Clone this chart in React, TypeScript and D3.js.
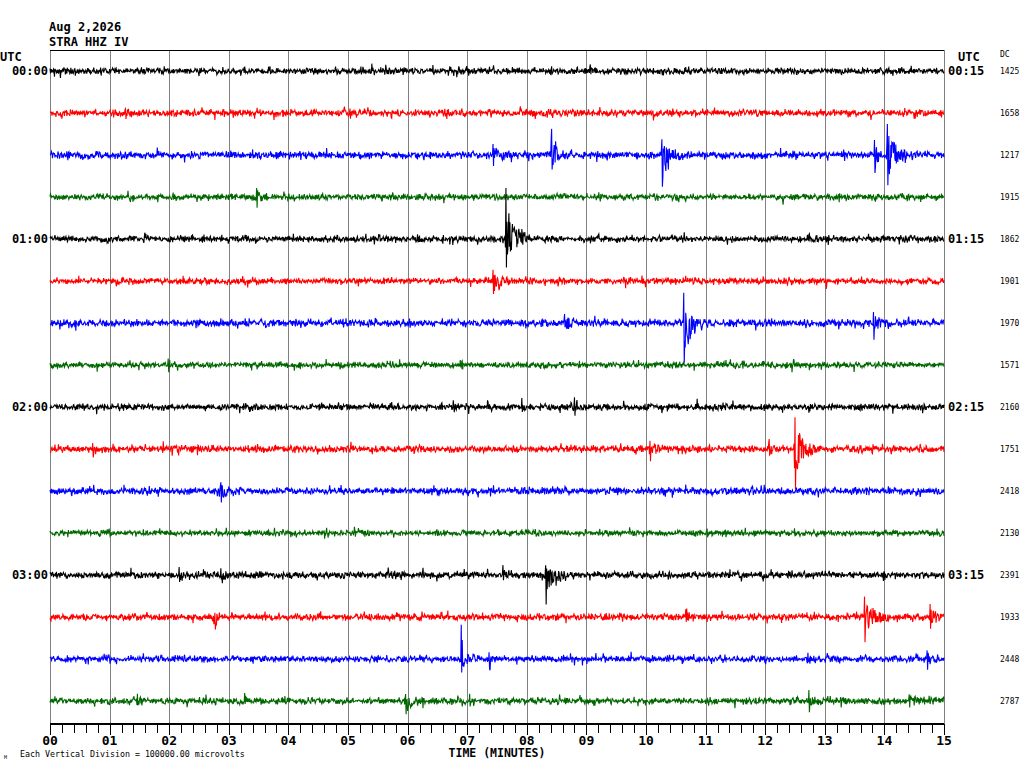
import { useMemo } from "react";
import * as d3 from "d3";

// header + labels
const dateLabel = "Aug 2,2026";
const stationLabel = "STRA HHZ IV";
const scaleNote = "Each Vertical Division = 100000.00 microvolts";
const leftTimes = ["00:00", "", "", "", "01:00", "", "", "", "02:00", "", "", "", "03:00", "", "", ""];
const rightTimes = ["00:15", "", "", "", "01:15", "", "", "", "02:15", "", "", "", "03:15", "", "", ""];
const dcValues = [1425, 1658, 1217, 1915, 1862, 1901, 1970, 1571, 2160, 1751, 2418, 2130, 2391, 1933, 2448, 2787];
const traceColors = ["#000000", "#ff0000", "#0000ff", "#006600"];
const minuteTicks = d3.range(0, 16);

// background noise level per line (microvolts)
const noiseLevels = [5600, 5900, 6000, 5200, 5400, 5300, 6200, 5000, 5600, 6000, 6000, 4800, 5800, 5800, 5400, 5600];

// events: [line, minute, peak up uV, peak down uV, duration s]
const events: [number, number, number, number, number][] = [
  [0, 5.2, 12000, 9000, 10], [0, 9.05, 10000, 7000, 8], [0, 7.0, 7000, 12000, 6],
  [1, 1.25, 14000, 12000, 15], [1, 2.9, 12000, 9000, 10], [1, 4.4, 12000, 7000, 10], [1, 10.1, 12000, 12000, 15],
  [2, 7.42, 24000, 24000, 25], [2, 8.4, 67000, 29000, 20], [2, 10.25, 40000, 71000, 25],
  [2, 13.82, 33000, 43000, 12], [2, 14.03, 79000, 64000, 25],
  [3, 3.45, 24000, 29000, 15],
  [4, 6.15, 10000, 10000, 10], [4, 7.63, 119000, 67000, 25], [4, 12.85, 10000, 7000, 10],
  [5, 7.42, 31000, 38000, 20], [5, 13.0, 7000, 19000, 3],
  [6, 4.9, 10000, 12000, 5], [6, 8.62, 24000, 19000, 20], [6, 10.62, 71000, 95000, 20], [6, 13.8, 24000, 29000, 25],
  [7, 1.97, 17000, 19000, 15], [7, 6.9, 12000, 7000, 5],
  [8, 1.7, 10000, 10000, 5], [8, 7.9, 21000, 12000, 15], [8, 8.78, 19000, 17000, 15],
  [9, 0.7, 12000, 10000, 20], [9, 1.2, 10000, 10000, 10], [9, 10.05, 24000, 19000, 20],
  [9, 12.05, 19000, 12000, 10], [9, 12.48, 79000, 81000, 25],
  [10, 2.85, 21000, 26000, 20],
  [11, 5.1, 10000, 7000, 5],
  [12, 2.15, 14000, 14000, 15], [12, 2.85, 14000, 12000, 15], [12, 7.58, 19000, 14000, 20], [12, 8.3, 29000, 67000, 25],
  [13, 2.75, 12000, 29000, 8], [13, 10.65, 24000, 19000, 15], [13, 13.65, 48000, 52000, 30], [13, 14.75, 33000, 24000, 20],
  [14, 6.88, 79000, 31000, 15], [14, 7.35, 21000, 19000, 10], [14, 12.7, 14000, 12000, 15], [14, 14.7, 19000, 26000, 15],
  [15, 1.45, 12000, 14000, 10], [15, 3.25, 19000, 12000, 10], [15, 5.95, 19000, 29000, 20],
  [15, 12.72, 21000, 24000, 15], [15, 14.4, 17000, 14000, 20],
];

const W = 1024;
const H = 768;
const left = 50;
const right = 944;
const top = 50;
const bottom = 724;
const mono = "'DejaVu Sans Mono', monospace";

// seeded generator so the background hiss is identical on every render
function mulberry32(seed: number) {
  return () => {
    seed |= 0;
    seed = (seed + 0x6d2b79f5) | 0;
    let t = Math.imul(seed ^ (seed >>> 15), 1 | seed);
    t = (t + Math.imul(t ^ (t >>> 7), 61 | t)) ^ t;
    return ((t ^ (t >>> 14)) >>> 0) / 4294967296;
  };
}

export default function App() {
  const x = d3.scaleLinear().domain([0, 15]).range([left, right]);
  const lineY = d3.scaleLinear().domain([0, 16]).range([top, 722]);
  // one division (100000 uV) = one line spacing
  const amp = d3.scaleLinear().domain([0, 100000]).range([0, lineY(1) - lineY(0)]);

  const traces = useMemo(() => {
    const dt = 0.5; // seconds per sample
    const n = Math.round((15 * 60) / dt);
    return dcValues.map((_, i) => {
      const rnd = mulberry32(1000 + i * 77);
      const evs = events.filter((e) => e[0] === i);
      const pts: [number, number][] = [];
      for (let k = 0; k <= n; k++) {
        const t = k * dt;
        let v = (rnd() + rnd() + rnd() - 1.5) * 1.3 * noiseLevels[i];
        if (rnd() < 0.08) v += (rnd() * 2 - 1) * 2.0 * noiseLevels[i];
        for (const [, m, up, down, dur] of evs) {
          const tr = t - m * 60;
          if (tr < 0 || tr > dur * 2) continue;
          const env = tr < 1 ? tr : Math.exp(-(tr - 1) / (dur / 2.5));
          const u = rnd() * 2 - 1;
          const r = Math.sign(u) * Math.sqrt(Math.abs(u));
          let e = (r > 0 ? r * up : r * down) * env * 0.8;
          if (Math.abs(tr - 1) < dt / 2) e = up;
          if (Math.abs(tr - 1.5) < dt / 2) e = -down;
          v += e;
        }
        pts.push([t / 60, v]);
      }
      const c = lineY(i + 0.5);
      return d3
        .line<[number, number]>()
        .x((d) => x(d[0]))
        .y((d) => c - amp(d[1]))(pts) as string;
    });
  }, []);

  const minor = d3.range(0, 75.5).map((d) => d / 5);
  const px = (v: number) => Math.round(v) + 0.5;

  return (
    <div style={{ position: "absolute", left: 0, top: 0, background: "#fff" }}>
      <svg width={W} height={H} style={{ display: "block" }}>
        <rect width={W} height={H} fill="#fff" />
        <text x={49} y={31} fontFamily={mono} fontWeight="bold" fontSize={12}>{dateLabel}</text>
        <text x={49} y={46} fontFamily={mono} fontWeight="bold" fontSize={12}>{stationLabel}</text>
        <text x={0} y={61} fontFamily={mono} fontWeight="bold" fontSize={12}>UTC</text>
        <text x={958} y={61} fontFamily={mono} fontWeight="bold" fontSize={12}>UTC</text>
        <text x={1000} y={57} fontFamily={mono} fontSize={8}>DC</text>

        {/* minute grid */}
        {minuteTicks.map((m) => (
          <line key={m} x1={px(x(m))} x2={px(x(m))} y1={top} y2={bottom} stroke="#808080" strokeWidth={1} shapeRendering="crispEdges" />
        ))}
        <line x1={left} x2={right} y1={top + 0.5} y2={top + 0.5} stroke="#000" strokeWidth={1} shapeRendering="crispEdges" />

        {traces.map((d, i) => (
          <path key={i} d={d} fill="none" stroke={traceColors[i % 4]} strokeWidth={1.1} />
        ))}

        {leftTimes.map((t, i) =>
          t ? (
            <text key={"l" + i} x={48} y={lineY(i + 0.5) + 4} textAnchor="end" fontFamily={mono} fontWeight="bold" fontSize={12}>{t}</text>
          ) : null
        )}
        {rightTimes.map((t, i) =>
          t ? (
            <text key={"r" + i} x={948} y={lineY(i + 0.5) + 4} fontFamily={mono} fontWeight="bold" fontSize={12}>{t}</text>
          ) : null
        )}
        {dcValues.map((v, i) => (
          <text key={"dc" + i} x={1000} y={lineY(i + 0.5) + 3} fontFamily={mono} fontSize={8}>{v}</text>
        ))}

        {/* time axis */}
        <line x1={left} x2={right} y1={bottom} y2={bottom} stroke="#000" strokeWidth={1.5} shapeRendering="crispEdges" />
        {minor.map((m, i) => (
          <line key={"t" + i} x1={px(x(m))} x2={px(x(m))} y1={bottom} y2={bottom + (i % 5 === 0 ? 11 : 9)} stroke="#000" strokeWidth={1} shapeRendering="crispEdges" />
        ))}
        {minuteTicks.map((m) => (
          <text key={"ml" + m} x={x(m)} y={745} textAnchor="middle" fontFamily={mono} fontWeight="bold" fontSize={13}>
            {d3.format("02d")(m)}
          </text>
        ))}
        <text x={x(7.5)} y={757} textAnchor="middle" fontFamily={mono} fontWeight="bold" fontSize={11.5}>TIME (MINUTES)</text>
        <text x={20} y={757} fontFamily={mono} fontSize={8.3}>{scaleNote}</text>
        <text x={4} y={759} fontFamily={mono} fontSize={5}>M</text>
      </svg>
    </div>
  );
}
